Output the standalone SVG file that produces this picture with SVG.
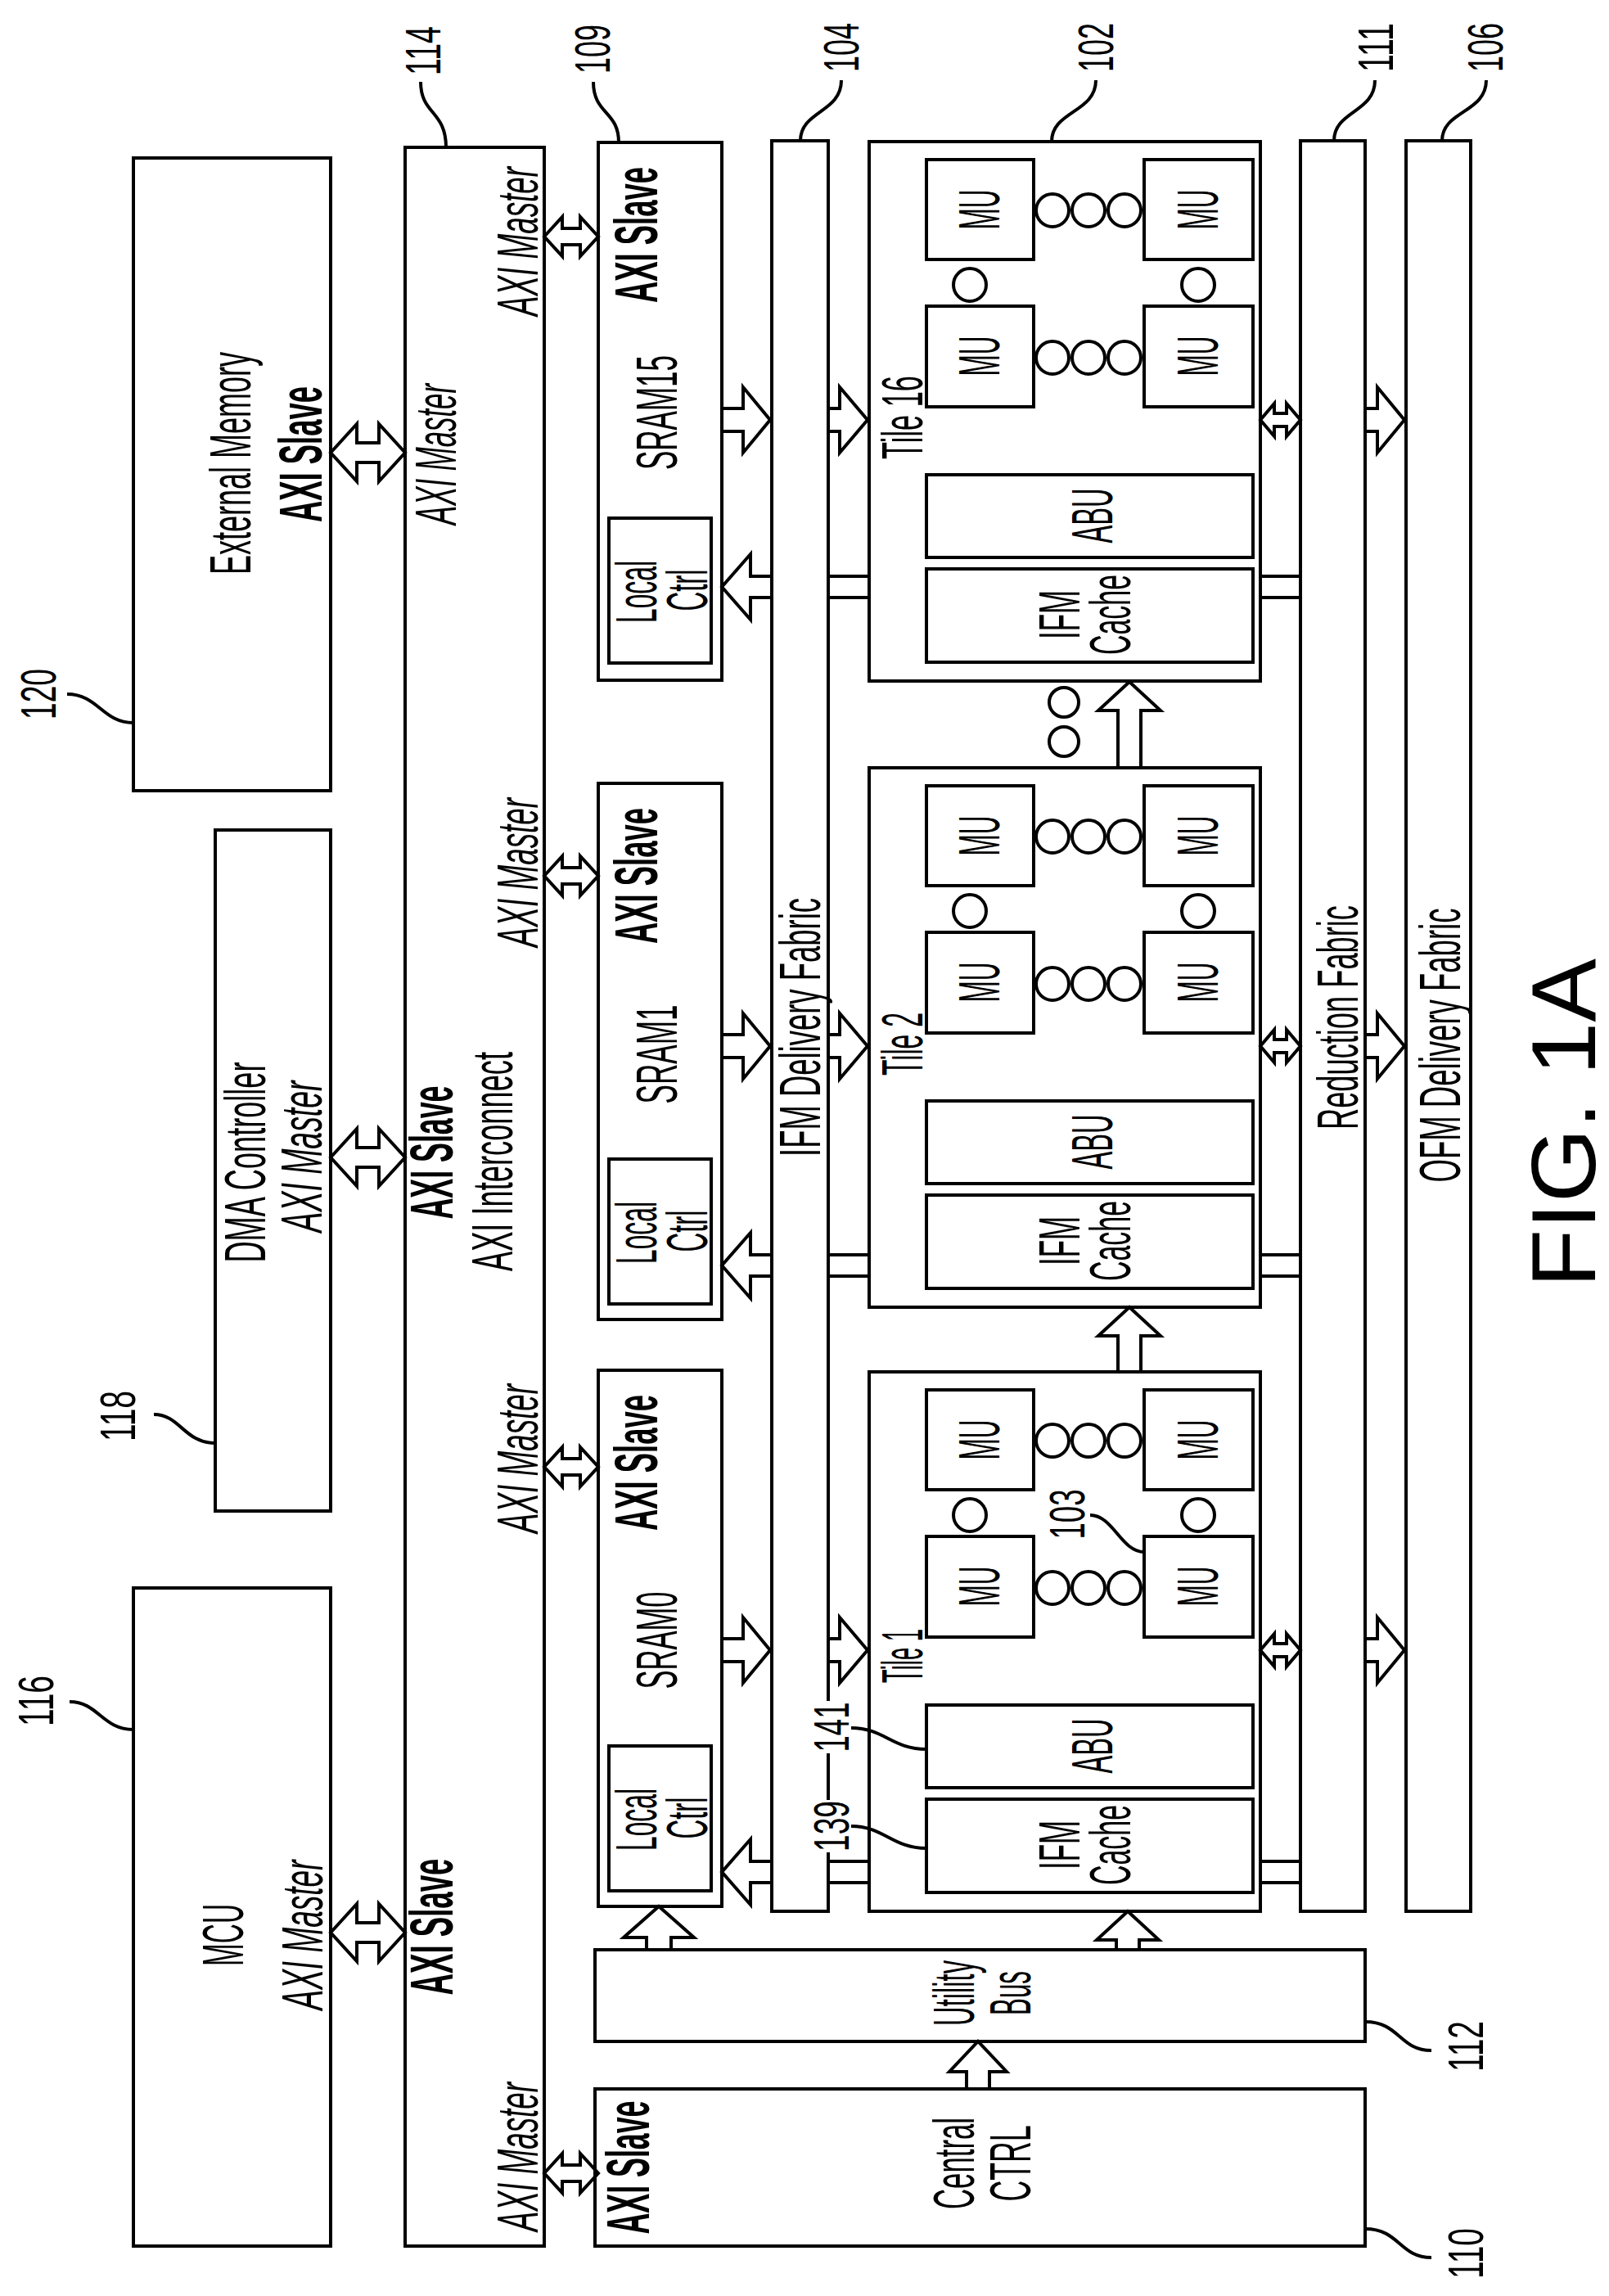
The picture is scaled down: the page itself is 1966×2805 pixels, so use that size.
<svg xmlns="http://www.w3.org/2000/svg" width="1966" height="2805" viewBox="0 0 1966 2805">
<style>
.b{fill:#fff;stroke:#000;stroke-width:4}
.l{fill:none;stroke:#000;stroke-width:4}
.c{fill:#fff;stroke:#000;stroke-width:4}
text{font-family:"Liberation Sans",Arial,sans-serif;text-anchor:middle;dominant-baseline:central;fill:#000}
.t{font-size:70px}
.bo{font-size:74px;font-weight:bold}
.it{font-size:70px;font-style:italic}
.n{font-size:61px}
.s{text-anchor:start}
</style>
<rect width="1966" height="2805" fill="#fff"/>

<g id="external-memory">
<rect class="b" x="163" y="193" width="241" height="773"/>
<text class="t" transform="translate(282,566) rotate(-90)" textLength="272" lengthAdjust="spacingAndGlyphs">External Memory</text>
<text class="bo" transform="translate(367,555) rotate(-90)" textLength="166" lengthAdjust="spacingAndGlyphs">AXI Slave</text>
</g>
<g id="dma">
<rect class="b" x="263" y="1014" width="141" height="832"/>
<text class="t" transform="translate(300,1420) rotate(-90)" textLength="245" lengthAdjust="spacingAndGlyphs">DMA Controller</text>
<text class="it" transform="translate(369,1413) rotate(-90)" textLength="185" lengthAdjust="spacingAndGlyphs">AXI Master</text>
</g>
<g id="mcu">
<rect class="b" x="163" y="1940" width="241" height="804"/>
<text class="t" transform="translate(273,2364) rotate(-90)" textLength="76" lengthAdjust="spacingAndGlyphs">MCU</text>
<text class="it" transform="translate(370,2364) rotate(-90)" textLength="183" lengthAdjust="spacingAndGlyphs">AXI Master</text>
</g>
<g id="axi-interconnect">
<rect class="b" x="495" y="180" width="170" height="2564"/>
<text class="it" transform="translate(533,555) rotate(-90)" textLength="172" lengthAdjust="spacingAndGlyphs">AXI Master</text>
<text class="bo" transform="translate(527,1408) rotate(-90)" textLength="163" lengthAdjust="spacingAndGlyphs">AXI Slave</text>
<text class="t" transform="translate(602,1419) rotate(-90)" textLength="268" lengthAdjust="spacingAndGlyphs">AXI Interconnect</text>
<text class="bo" transform="translate(527,2354) rotate(-90)" textLength="167" lengthAdjust="spacingAndGlyphs">AXI Slave</text>
<text class="it" transform="translate(633,295) rotate(-90)" textLength="182" lengthAdjust="spacingAndGlyphs">AXI Master</text>
<text class="it" transform="translate(633,1066) rotate(-90)" textLength="182" lengthAdjust="spacingAndGlyphs">AXI Master</text>
<text class="it" transform="translate(633,1782) rotate(-90)" textLength="182" lengthAdjust="spacingAndGlyphs">AXI Master</text>
<text class="it" transform="translate(633,2635) rotate(-90)" textLength="182" lengthAdjust="spacingAndGlyphs">AXI Master</text>
</g>

<g id="sram15">
<rect class="b" x="731" y="174" width="151" height="657"/>
<rect class="b" x="744" y="633" width="125" height="177"/>
<text class="bo" transform="translate(777,287) rotate(-90)" textLength="166" lengthAdjust="spacingAndGlyphs">AXI Slave</text>
<text class="t" transform="translate(803,504) rotate(-90)" textLength="140" lengthAdjust="spacingAndGlyphs">SRAM15</text>
<text class="t" transform="translate(778,723) rotate(-90)" textLength="76" lengthAdjust="spacingAndGlyphs">Local</text>
<text class="t" transform="translate(840,721) rotate(-90)" textLength="51" lengthAdjust="spacingAndGlyphs">Ctrl</text>
</g>
<g id="sram1">
<rect class="b" x="731" y="957" width="151" height="655"/>
<rect class="b" x="744" y="1416" width="125" height="177"/>
<text class="bo" transform="translate(777,1070) rotate(-90)" textLength="166" lengthAdjust="spacingAndGlyphs">AXI Slave</text>
<text class="t" transform="translate(803,1288) rotate(-90)" textLength="121" lengthAdjust="spacingAndGlyphs">SRAM1</text>
<text class="t" transform="translate(778,1506) rotate(-90)" textLength="76" lengthAdjust="spacingAndGlyphs">Local</text>
<text class="t" transform="translate(840,1504) rotate(-90)" textLength="51" lengthAdjust="spacingAndGlyphs">Ctrl</text>
</g>
<g id="sram0">
<rect class="b" x="731" y="1674" width="151" height="655"/>
<rect class="b" x="744" y="2133" width="125" height="177"/>
<text class="bo" transform="translate(777,1787) rotate(-90)" textLength="166" lengthAdjust="spacingAndGlyphs">AXI Slave</text>
<text class="t" transform="translate(803,2004) rotate(-90)" textLength="119" lengthAdjust="spacingAndGlyphs">SRAM0</text>
<text class="t" transform="translate(778,2223) rotate(-90)" textLength="76" lengthAdjust="spacingAndGlyphs">Local</text>
<text class="t" transform="translate(840,2221) rotate(-90)" textLength="51" lengthAdjust="spacingAndGlyphs">Ctrl</text>
</g>

<g id="ifm-fabric">
<rect class="b" x="943" y="172" width="69" height="2163"/>
<text class="t" transform="translate(978,1255) rotate(-90)" textLength="316" lengthAdjust="spacingAndGlyphs">IFM Delivery Fabric</text>
</g>
<g id="reduction-fabric">
<rect class="b" x="1589" y="172" width="79" height="2163"/>
<text class="t" transform="translate(1635,1243) rotate(-90)" textLength="274" lengthAdjust="spacingAndGlyphs">Reduction Fabric</text>
</g>
<g id="ofm-fabric">
<rect class="b" x="1718" y="172" width="79" height="2163"/>
<text class="t" transform="translate(1760,1277) rotate(-90)" textLength="335" lengthAdjust="spacingAndGlyphs">OFM Delivery Fabric</text>
</g>

<g id="tile16">
<rect class="b" x="1062" y="173" width="478" height="659"/>
<rect class="b" x="1132" y="195" width="131" height="122"/><rect class="b" x="1398" y="195" width="133" height="122"/>
<rect class="b" x="1132" y="374" width="131" height="123"/><rect class="b" x="1398" y="374" width="133" height="123"/>
<text class="t" transform="translate(1197,256) rotate(-90)" textLength="49" lengthAdjust="spacingAndGlyphs">MU</text>
<text class="t" transform="translate(1464,256) rotate(-90)" textLength="49" lengthAdjust="spacingAndGlyphs">MU</text>
<text class="t" transform="translate(1197,435) rotate(-90)" textLength="49" lengthAdjust="spacingAndGlyphs">MU</text>
<text class="t" transform="translate(1464,435) rotate(-90)" textLength="49" lengthAdjust="spacingAndGlyphs">MU</text>
<circle class="c" cx="1286" cy="257" r="20"/><circle class="c" cx="1330" cy="257" r="20"/><circle class="c" cx="1374" cy="257" r="20"/>
<circle class="c" cx="1286" cy="437" r="20"/><circle class="c" cx="1330" cy="437" r="20"/><circle class="c" cx="1374" cy="437" r="20"/>
<circle class="c" cx="1185" cy="348" r="20"/><circle class="c" cx="1464" cy="348" r="20"/>
<rect class="b" x="1132" y="580" width="399" height="101"/>
<text class="t" transform="translate(1335,630) rotate(-90)" textLength="67" lengthAdjust="spacingAndGlyphs">ABU</text>
<rect class="b" x="1132" y="695" width="399" height="114"/>
<text class="t" transform="translate(1295,751) rotate(-90)" textLength="60" lengthAdjust="spacingAndGlyphs">IFM</text>
<text class="t" transform="translate(1357,751) rotate(-90)" textLength="98" lengthAdjust="spacingAndGlyphs">Cache</text>
<text class="t s" transform="translate(1103,561) rotate(-90)" textLength="102" lengthAdjust="spacingAndGlyphs">Tile 16</text>
</g>
<g id="tile2">
<rect class="b" x="1062" y="938" width="478" height="659"/>
<rect class="b" x="1132" y="960" width="131" height="122"/><rect class="b" x="1398" y="960" width="133" height="122"/>
<rect class="b" x="1132" y="1139" width="131" height="123"/><rect class="b" x="1398" y="1139" width="133" height="123"/>
<text class="t" transform="translate(1197,1021) rotate(-90)" textLength="49" lengthAdjust="spacingAndGlyphs">MU</text>
<text class="t" transform="translate(1464,1021) rotate(-90)" textLength="49" lengthAdjust="spacingAndGlyphs">MU</text>
<text class="t" transform="translate(1197,1200) rotate(-90)" textLength="49" lengthAdjust="spacingAndGlyphs">MU</text>
<text class="t" transform="translate(1464,1200) rotate(-90)" textLength="49" lengthAdjust="spacingAndGlyphs">MU</text>
<circle class="c" cx="1286" cy="1022" r="20"/><circle class="c" cx="1330" cy="1022" r="20"/><circle class="c" cx="1374" cy="1022" r="20"/>
<circle class="c" cx="1286" cy="1202" r="20"/><circle class="c" cx="1330" cy="1202" r="20"/><circle class="c" cx="1374" cy="1202" r="20"/>
<circle class="c" cx="1185" cy="1113" r="20"/><circle class="c" cx="1464" cy="1113" r="20"/>
<rect class="b" x="1132" y="1345" width="399" height="101"/>
<text class="t" transform="translate(1335,1395) rotate(-90)" textLength="67" lengthAdjust="spacingAndGlyphs">ABU</text>
<rect class="b" x="1132" y="1460" width="399" height="114"/>
<text class="t" transform="translate(1295,1516) rotate(-90)" textLength="60" lengthAdjust="spacingAndGlyphs">IFM</text>
<text class="t" transform="translate(1357,1516) rotate(-90)" textLength="98" lengthAdjust="spacingAndGlyphs">Cache</text>
<text class="t s" transform="translate(1103,1314) rotate(-90)" textLength="77" lengthAdjust="spacingAndGlyphs">Tile 2</text>
</g>
<g id="tile1">
<rect class="b" x="1062" y="1676" width="478" height="659"/>
<rect class="b" x="1132" y="1698" width="131" height="122"/><rect class="b" x="1398" y="1698" width="133" height="122"/>
<rect class="b" x="1132" y="1877" width="131" height="123"/><rect class="b" x="1398" y="1877" width="133" height="123"/>
<text class="t" transform="translate(1197,1759) rotate(-90)" textLength="49" lengthAdjust="spacingAndGlyphs">MU</text>
<text class="t" transform="translate(1464,1759) rotate(-90)" textLength="49" lengthAdjust="spacingAndGlyphs">MU</text>
<text class="t" transform="translate(1197,1938) rotate(-90)" textLength="49" lengthAdjust="spacingAndGlyphs">MU</text>
<text class="t" transform="translate(1464,1938) rotate(-90)" textLength="49" lengthAdjust="spacingAndGlyphs">MU</text>
<circle class="c" cx="1286" cy="1760" r="20"/><circle class="c" cx="1330" cy="1760" r="20"/><circle class="c" cx="1374" cy="1760" r="20"/>
<circle class="c" cx="1286" cy="1940" r="20"/><circle class="c" cx="1330" cy="1940" r="20"/><circle class="c" cx="1374" cy="1940" r="20"/>
<circle class="c" cx="1185" cy="1851" r="20"/><circle class="c" cx="1464" cy="1851" r="20"/>
<rect class="b" x="1132" y="2083" width="399" height="101"/>
<text class="t" transform="translate(1335,2133) rotate(-90)" textLength="67" lengthAdjust="spacingAndGlyphs">ABU</text>
<rect class="b" x="1132" y="2198" width="399" height="114"/>
<text class="t" transform="translate(1295,2254) rotate(-90)" textLength="60" lengthAdjust="spacingAndGlyphs">IFM</text>
<text class="t" transform="translate(1357,2254) rotate(-90)" textLength="98" lengthAdjust="spacingAndGlyphs">Cache</text>
<text class="t s" transform="translate(1103,2056) rotate(-90)" textLength="66" lengthAdjust="spacingAndGlyphs">Tile 1</text>
</g>

<g id="utility-bus">
<rect class="b" x="727" y="2382" width="941" height="112"/>
<text class="t" transform="translate(1166,2435) rotate(-90)" textLength="80" lengthAdjust="spacingAndGlyphs">Utility</text>
<text class="t" transform="translate(1235,2435) rotate(-90)" textLength="54" lengthAdjust="spacingAndGlyphs">Bus</text>
</g>
<g id="central-ctrl">
<rect class="b" x="727" y="2552" width="941" height="192"/>
<text class="bo" transform="translate(767,2648) rotate(-90)" textLength="163" lengthAdjust="spacingAndGlyphs">AXI Slave</text>
<text class="t" transform="translate(1166,2643) rotate(-90)" textLength="112" lengthAdjust="spacingAndGlyphs">Central</text>
<text class="t" transform="translate(1235,2643) rotate(-90)" textLength="93" lengthAdjust="spacingAndGlyphs">CTRL</text>
</g>

<g id="connectors" class="l">
<path class="l" d="M404,553 L436,518 L436,541 L463,541 L463,518 L495,553 L463,588 L463,565 L436,565 L436,588 Z"/>
<path class="l" d="M404,1414 L436,1379 L436,1402 L463,1402 L463,1379 L495,1414 L463,1449 L463,1426 L436,1426 L436,1449 Z"/>
<path class="l" d="M404,2361 L436,2326 L436,2349 L463,2349 L463,2326 L495,2361 L463,2396 L463,2373 L436,2373 L436,2396 Z"/>
<path class="l" d="M665,289 L687,265 L687,279 L709,279 L709,265 L731,289 L709,313 L709,299 L687,299 L687,313 Z"/>
<path class="l" d="M665,1070 L687,1046 L687,1060 L709,1060 L709,1046 L731,1070 L709,1094 L709,1080 L687,1080 L687,1094 Z"/>
<path class="l" d="M665,1792 L687,1768 L687,1782 L709,1782 L709,1768 L731,1792 L709,1816 L709,1802 L687,1802 L687,1816 Z"/>
<path class="l" d="M665,2655 L687,2631 L687,2645 L709,2645 L709,2631 L731,2655 L709,2679 L709,2665 L687,2665 L687,2679 Z"/>
<path class="l" d="M882,499 L908,499 L908,473 L941,513 L908,553 L908,527 L882,527"/>
<path class="l" d="M882,1264 L908,1264 L908,1238 L941,1278 L908,1318 L908,1292 L882,1292"/>
<path class="l" d="M882,2002 L908,2002 L908,1976 L941,2016 L908,2056 L908,2030 L882,2030"/>
<path class="l" d="M1012,499 L1026,499 L1026,473 L1060,513 L1026,553 L1026,527 L1012,527"/>
<path class="l" d="M1012,1264 L1026,1264 L1026,1238 L1060,1278 L1026,1318 L1026,1292 L1012,1292"/>
<path class="l" d="M1012,2002 L1026,2002 L1026,1976 L1060,2016 L1026,2056 L1026,2030 L1012,2030"/>
<path class="l" d="M1668,499 L1683,499 L1683,473 L1716,513 L1683,553 L1683,527 L1668,527"/>
<path class="l" d="M1668,1264 L1683,1264 L1683,1238 L1716,1278 L1683,1318 L1683,1292 L1668,1292"/>
<path class="l" d="M1668,2002 L1683,2002 L1683,1976 L1716,2016 L1683,2056 L1683,2030 L1668,2030"/>
<path class="l" d="M1540,513 L1557,493 L1557,505 L1572,505 L1572,493 L1589,513 L1572,533 L1572,521 L1557,521 L1557,533 Z"/>
<path class="l" d="M1540,1278 L1557,1258 L1557,1270 L1572,1270 L1572,1258 L1589,1278 L1572,1298 L1572,1286 L1557,1286 L1557,1298 Z"/>
<path class="l" d="M1540,2016 L1557,1996 L1557,2008 L1572,2008 L1572,1996 L1589,2016 L1572,2036 L1572,2024 L1557,2024 L1557,2036 Z"/>
<path class="l" d="M943,704 L917,704 L917,677 L882,717 L917,757 L917,730 L943,730"/>
<path class="l" d="M943,1533 L917,1533 L917,1506 L882,1546 L917,1586 L917,1559 L943,1559"/>
<path class="l" d="M943,2274 L917,2274 L917,2247 L882,2287 L917,2327 L917,2300 L943,2300"/>
<path class="l" d="M1012,704 H1062 M1012,730 H1062 M1540,704 H1589 M1540,730 H1589"/>
<path class="l" d="M1012,1533 H1062 M1012,1559 H1062 M1540,1533 H1589 M1540,1559 H1589"/>
<path class="l" d="M1012,2274 H1062 M1012,2300 H1062 M1540,2274 H1589 M1540,2300 H1589"/>
<path class="l" d="M1366,938 L1366,868 L1342,868 L1380,833 L1418,868 L1394,868 L1394,938"/>
<path class="l" d="M1366,1676 L1366,1632 L1342,1632 L1380,1597 L1418,1632 L1394,1632 L1394,1676"/>
<path class="l" d="M1364,2382 L1364,2370 L1340,2370 L1378,2335 L1416,2370 L1392,2370 L1392,2382"/>
<path class="l" d="M790,2382 L790,2367 L762,2367 L805,2329 L848,2367 L820,2367 L820,2382"/>
<path class="l" d="M1181,2552 L1181,2531 L1160,2531 L1195,2494 L1230,2531 L1209,2531 L1209,2552"/>
<circle class="c" cx="1300" cy="858" r="18"/><circle class="c" cx="1300" cy="906" r="18"/>
<path class="l" d="M545,180 C545,135 514,140 514,100"/>
<path class="l" d="M756,174 C756,135 725,140 725,100"/>
<path class="l" d="M978,172 C978,135 1028,138 1028,98"/>
<path class="l" d="M1285,173 C1285,135 1339,138 1339,98"/>
<path class="l" d="M1630,172 C1630,135 1680,138 1680,98"/>
<path class="l" d="M1762,172 C1762,135 1816,138 1816,98"/>
<path class="l" d="M163,883 C125,883 120,848 82,848"/>
<path class="l" d="M163,2113 C125,2113 120,2079 85,2079"/>
<path class="l" d="M263,1763 C225,1763 220,1728 188,1728"/>
<path class="l" d="M1668,2470 C1710,2470 1710,2505 1749,2505"/>
<path class="l" d="M1668,2723 C1710,2723 1710,2758 1749,2758"/>
<path class="l" d="M1040,2111 C1080,2111 1090,2137 1132,2137"/>
<path class="l" d="M1040,2231 C1080,2231 1090,2258 1132,2258"/>
<path class="l" d="M1332,1851 C1360,1851 1370,1896 1398,1896"/>
</g>

<g id="labels">
<rect x="994" y="2078" width="44" height="64" fill="#fff"/>
<rect x="994" y="2199" width="44" height="64" fill="#fff"/>
<text class="n" transform="translate(517,62) rotate(-90)" textLength="60" lengthAdjust="spacingAndGlyphs">114</text>
<text class="n" transform="translate(724,60) rotate(-90)" textLength="60" lengthAdjust="spacingAndGlyphs">109</text>
<text class="n" transform="translate(1028,58) rotate(-90)" textLength="60" lengthAdjust="spacingAndGlyphs">104</text>
<text class="n" transform="translate(1339,58) rotate(-90)" textLength="60" lengthAdjust="spacingAndGlyphs">102</text>
<text class="n" transform="translate(1681,58) rotate(-90)" textLength="60" lengthAdjust="spacingAndGlyphs">111</text>
<text class="n" transform="translate(1815,58) rotate(-90)" textLength="60" lengthAdjust="spacingAndGlyphs">106</text>
<text class="n" transform="translate(47,848) rotate(-90)" textLength="62" lengthAdjust="spacingAndGlyphs">120</text>
<text class="n" transform="translate(44,2078) rotate(-90)" textLength="62" lengthAdjust="spacingAndGlyphs">116</text>
<text class="n" transform="translate(144,1730) rotate(-90)" textLength="62" lengthAdjust="spacingAndGlyphs">118</text>
<text class="n" transform="translate(1791,2500) rotate(-90)" textLength="62" lengthAdjust="spacingAndGlyphs">112</text>
<text class="n" transform="translate(1791,2753) rotate(-90)" textLength="62" lengthAdjust="spacingAndGlyphs">110</text>
<text class="n" transform="translate(1016,2110) rotate(-90)" textLength="61" lengthAdjust="spacingAndGlyphs">141</text>
<text class="n" transform="translate(1016,2231) rotate(-90)" textLength="62" lengthAdjust="spacingAndGlyphs">139</text>
<text class="n" transform="translate(1304,1850) rotate(-90)" textLength="61" lengthAdjust="spacingAndGlyphs">103</text>
<text style="font-size:112px" transform="translate(1910,1372) rotate(-90)" textLength="402" lengthAdjust="spacingAndGlyphs">FIG. 1A</text>
</g>
</svg>
